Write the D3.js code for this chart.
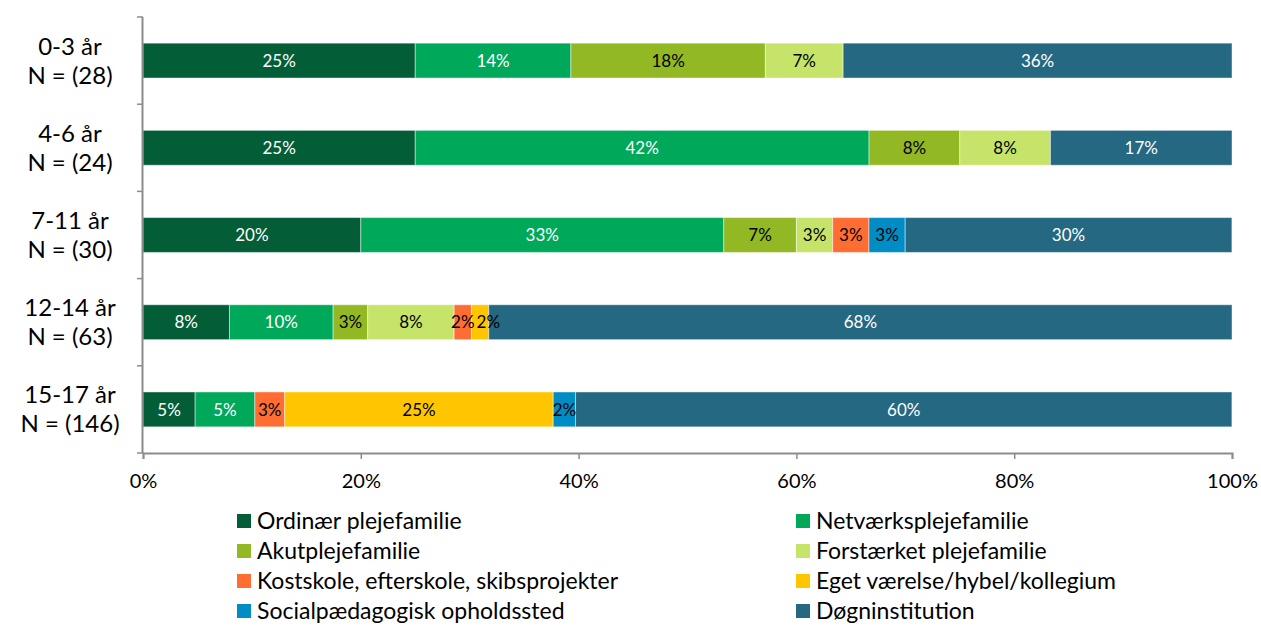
<!DOCTYPE html>
<html>
<head>
<meta charset="utf-8">
<script src="https://cdn.jsdelivr.net/npm/d3@7"></script>
<style>
  body { margin: 0; background: #fff; }
  svg text { font-family: Lato, "Open Sans", sans-serif; }
</style>
</head>
<body>
<svg id="chart" width="1261" height="626"></svg>
<script>
// aldersgrupper (to linjer i etiketten)
const groups = ['0-3 år', '4-6 år', '7-11 år', '12-14 år', '15-17 år'];
const groupN = ['N = (28)', 'N = (24)', 'N = (30)', 'N = (63)', 'N = (146)'];

const series = [
  'Ordinær plejefamilie', 'Netværksplejefamilie',
  'Akutplejefamilie', 'Forstærket plejefamilie',
  'Kostskole, efterskole, skibsprojekter', 'Eget værelse/hybel/kollegium',
  'Socialpædagogisk opholdssted', 'Døgninstitution'
];
const colors = ['#035e37', '#00a85a', '#92b823', '#c6e46a', '#ff6d33', '#ffc600', '#008cc4', '#256882'];
const labelColors = ['#fff', '#fff', '#000', '#000', '#000', '#000', '#000', '#fff'];

// andele pr. serie, i rækkefølgen af groups
const ordinaer    = [0.2500, 0.2500, 0.2000, 0.0794, 0.0479];
const netvaerk    = [0.1429, 0.4167, 0.3333, 0.0952, 0.0548];
const akut        = [0.1786, 0.0833, 0.0667, 0.0317, 0];
const forstaerket = [0.0714, 0.0833, 0.0333, 0.0794, 0];
const kostskole   = [0,      0,      0.0333, 0.0159, 0.0274];
const egetVaer    = [0,      0,      0,      0.0159, 0.2466];
const socialPaed  = [0,      0,      0.0333, 0,      0.0205];
const doegn       = [0.3571, 0.1667, 0.3000, 0.6825, 0.6027];

const xTicks = [0, 0.2, 0.4, 0.6, 0.8, 1];

const values = [ordinaer, netvaerk, akut, forstaerket, kostskole, egetVaer, socialPaed, doegn];

const svg = d3.select('#chart');
const m = { left: 143, right: 1232, top: 17, bottom: 453 };

const x = d3.scaleLinear().domain([0, 1]).range([m.left, m.right]);
const y = d3.scaleBand().domain(groups).range([m.top, m.bottom]).paddingInner(0.6).paddingOuter(0.3);

// stak data
const rows = groups.map((g, i) => {
  const r = { group: g };
  series.forEach((s, j) => r[s] = values[j][i]);
  return r;
});
const stacked = d3.stack().keys(series)(rows);

const layers = svg.append('g').selectAll('g')
  .data(stacked)
  .enter().append('g')
  .attr('fill', (d, i) => colors[i]);

layers.selectAll('rect')
  .data(d => d.filter(p => p[1] - p[0] > 0))
  .enter().append('rect')
  .attr('x', d => x(d[0]))
  .attr('y', d => y(d.data.group))
  .attr('width', d => x(d[1]) - x(d[0]))
  .attr('height', y.bandwidth())
  .attr('stroke', 'rgba(255,255,255,0.45)')
  .attr('stroke-width', 1);

// procent-etiketter
const labelG = svg.append('g');
stacked.forEach((layer, i) => {
  labelG.selectAll(null)
    .data(layer.filter(p => p[1] - p[0] > 0))
    .enter().append('text')
    .attr('class', 'val')
    .attr('x', d => (x(d[0]) + x(d[1])) / 2)
    .attr('y', d => y(d.data.group) + y.bandwidth() / 2)
    .attr('dy', '0.36em')
    .attr('text-anchor', 'middle')
    .attr('fill', labelColors[i])
    .style('font-size', '17px')
    .text(d => Math.round(d.data[layer.key] * 100) + '%');
});

// skub etiketter der overlapper til højre
groups.forEach(g => {
  const labs = labelG.selectAll('text.val').filter(d => d.data.group === g).nodes()
    .sort((a, b) => +a.getAttribute('x') - +b.getAttribute('x'));
  let prevRight = -Infinity;
  labs.forEach(n => {
    const w = n.getComputedTextLength();
    let cx = +n.getAttribute('x');
    if (cx - w / 2 < prevRight + 2) {
      cx = prevRight + 2 + w / 2;
      n.setAttribute('x', cx);
    }
    prevRight = cx + w / 2;
  });
});

// akser
const axisColor = '#8c8c8c';
svg.append('line')
  .attr('x1', m.left - 0.5).attr('x2', m.left - 0.5)
  .attr('y1', m.top).attr('y2', m.bottom)
  .attr('stroke', axisColor).attr('stroke-width', 2);

const bandStep = (m.bottom - m.top) / groups.length;
d3.range(groups.length + 1).forEach(i => {
  svg.append('line')
    .attr('x1', m.left - 6).attr('x2', m.left)
    .attr('y1', m.top + i * bandStep).attr('y2', m.top + i * bandStep)
    .attr('stroke', axisColor).attr('stroke-width', 1.5);
});

const xAxis = svg.append('g')
  .attr('transform', `translate(0,${m.bottom})`)
  .call(d3.axisBottom(x).tickValues(xTicks).tickFormat(d3.format('.0%')).tickSize(6).tickPadding(15));
xAxis.select('.domain').attr('stroke', axisColor).attr('stroke-width', 2);
xAxis.selectAll('.tick line').attr('stroke', axisColor).attr('stroke-width', 1.5);
xAxis.selectAll('.tick text')
  .attr('fill', '#000')
  .style('font-size', '20px');

// kategori-etiketter
groups.forEach((g, i) => {
  const cy = y(g) + y.bandwidth() / 2;
  const t = svg.append('text')
    .attr('text-anchor', 'middle')
    .attr('fill', '#000')
    .style('font-size', '24px');
  t.append('tspan').attr('x', 70).attr('y', cy - 6).text(g);
  t.append('tspan').attr('x', 70).attr('y', cy + 23).text(groupN[i]);
});

// legende
const legend = svg.append('g');
series.forEach((s, i) => {
  const col = i % 2, row = Math.floor(i / 2);
  const lx = col === 0 ? 237 : 796;
  const ly = 521 + row * 30;
  legend.append('rect')
    .attr('x', lx).attr('y', ly - 7)
    .attr('width', 14).attr('height', 14)
    .attr('fill', colors[i]);
  legend.append('text')
    .attr('x', lx + 20).attr('y', ly)
    .attr('dy', '0.36em')
    .attr('fill', '#000')
    .style('font-size', '23px')
    .text(s);
});
</script>
</body>
</html>
